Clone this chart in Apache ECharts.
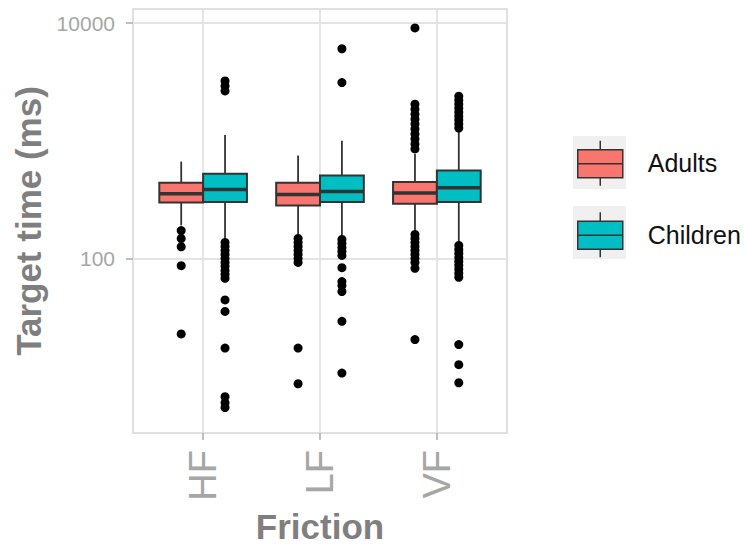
<!DOCTYPE html>
<html>
<head>
<meta charset="utf-8">
<script src="https://cdn.jsdelivr.net/npm/echarts@6/dist/echarts.min.js"></script>
<style>
html,body{margin:0;padding:0;background:#fff;}
#chart{width:744px;height:549px;}
</style>
</head>
<body>
<div id="chart"></div>
<script>
// ---------- data ----------
const categories = ['HF', 'LF', 'VF'];
const groups = ['Adults', 'Children'];
// [lower whisker, Q1, median, Q3, upper whisker] (ms)
const adultsStats = [
  [191, 298, 355, 439, 665],
  [156, 282, 350, 439, 748],
  [168, 292, 359, 445, 773]
];
const childrenStats = [
  [142, 302, 385, 524, 1119],
  [150, 302, 371, 506, 1000],
  [134, 302, 398, 558, 1186]
];
const adultsOutliers = [
  [172.5, 147.6, 125.6, 86.7, 22.8],
  [147.6, 136.5, 126.3, 116.9, 108.1, 100, 92.5, 17.3, 8.6],
  [9107, 2046, 1856, 1683, 1527, 1386, 1257, 1140, 1035, 939, 852,
   159.6, 147.6, 136.5, 126.3, 116.9, 108.1, 100, 92.5, 82.3, 20.4]
];
const childrenOutliers = [
  [3221, 2922, 2650, 136.5, 126.3, 116.9, 108.1, 100, 92.5, 85.6, 79.1, 73.2, 67.7,
   44.4, 35.4, 17.3, 6.67, 5.94, 5.39],
  [6053, 3121, 144.8, 133.9, 123.9, 114.6, 106, 83.4, 63.5, 58.8, 52.3, 29.2, 10.6],
  [2390, 2212, 2046, 1892, 1750, 1619, 1498, 1386, 1282,
   128.8, 119.2, 110, 101.9, 94.3, 87.3, 80.7, 74.7, 69.1, 18.5, 12.5, 8.77]
];
const yTicks = [100, 10000];
const yTickLabels = ['100', '10000'];
const xTicks = [1, 2, 3];

// ---------- layout helpers ----------
const DODGE = 0.1875;   // half of the 0.75 dodge width
const colors = {Adults: '#F8766D', Children: '#00BFC4'};
const LINE = '#333333';

function boxData(stats, sign) {
  return stats.map((s, i) => [i + 1 + sign * DODGE].concat(s));
}
function outlierData(outs, sign) {
  const res = [];
  outs.forEach((arr, i) => arr.forEach(v => res.push([i + 1 + sign * DODGE, v])));
  return res;
}
function renderBox(fill) {
  return function (params, api) {
    const x = api.value(0);
    const pL = api.coord([x - DODGE, api.value(2)]);
    const pR = api.coord([x + DODGE, api.value(4)]);
    const lo = api.coord([x, api.value(1)]);
    const hi = api.coord([x, api.value(5)]);
    const md = api.coord([x, api.value(3)]);
    const xl = pL[0], xr = pR[0], yq1 = pL[1], yq3 = pR[1];
    const ws = {stroke: LINE, lineWidth: 1.8};
    return {
      type: 'group',
      children: [
        {type: 'line', shape: {x1: lo[0], y1: hi[1], x2: lo[0], y2: yq3}, style: ws},
        {type: 'line', shape: {x1: lo[0], y1: yq1, x2: lo[0], y2: lo[1]}, style: ws},
        {type: 'rect', shape: {x: xl, y: yq3, width: xr - xl, height: yq1 - yq3},
         style: {fill: fill, stroke: LINE, lineWidth: 2}},
        {type: 'line', shape: {x1: xl, y1: md[1], x2: xr, y2: md[1]},
         style: {stroke: LINE, lineWidth: 3.5}}
      ]
    };
  };
}

const legendIcon = 'path://M2,11 L47,11 L47,39 L2,39 Z M2,25 L47,25 M24.5,2 L24.5,11 M24.5,39 L24.5,47';
const FONT = '"Liberation Sans", Arial, sans-serif';

const chart = echarts.init(document.getElementById('chart'), null, {renderer: 'svg'});
const gridLines = yTicks.map(v => ({yAxis: v})).concat(xTicks.map(v => ({xAxis: v})));

chart.setOption({
  animation: false,
  backgroundColor: '#ffffff',
  textStyle: {fontFamily: FONT},
  grid: {
    left: 133, top: 9, width: 374, height: 426.5,
    show: true, borderColor: '#d6d6d6', borderWidth: 1.5, containLabel: false
  },
  xAxis: {
    type: 'value', min: 0.4, max: 3.6,
    name: 'Friction', nameLocation: 'middle', nameGap: 76,
    nameTextStyle: {fontSize: 35, fontWeight: 'bold', color: '#7f7f7f', fontFamily: FONT},
    axisLine: {show: false},
    axisTick: {show: true, length: 7, customValues: xTicks, lineStyle: {color: '#aaaaaa', width: 1.5}},
    axisLabel: {
      customValues: xTicks, rotate: 90, margin: 17, fontSize: 38, color: '#a6a6a6',
      fontFamily: FONT,
      formatter: v => categories[Math.round(v) - 1] || ''
    },
    splitLine: {show: false}
  },
  yAxis: {
    type: 'log', logBase: 10, min: 3.28, max: 13180,
    name: 'Target time (ms)', nameLocation: 'middle', nameGap: 79,
    nameTextStyle: {fontSize: 35, fontWeight: 'bold', color: '#7f7f7f', fontFamily: FONT},
    axisLine: {show: false},
    axisTick: {show: true, length: 7, customValues: yTicks, lineStyle: {color: '#aaaaaa', width: 1.5}},
    axisLabel: {
      customValues: yTicks, margin: 18, fontSize: 21, color: '#a6a6a6', fontFamily: FONT,
      formatter: v => { const i = yTicks.indexOf(Math.round(v)); return i >= 0 ? yTickLabels[i] : ''; }
    },
    splitLine: {show: false}
  },
  legend: {
    orient: 'vertical', left: 577, top: 140, padding: 0,
    itemWidth: 45, itemHeight: 45, itemGap: 25,
    selectedMode: false,
    itemStyle: {borderColor: LINE, borderWidth: 1.5},
    textStyle: {fontSize: 25, color: '#111111', fontFamily: FONT, padding: [0, 0, 0, 20]},
    data: groups.map(g => ({name: g, icon: legendIcon}))
  },
  graphic: [
    {type: 'rect', left: 573, top: 136, shape: {width: 53, height: 53}, style: {fill: '#f0f0f0'}, z: -10},
    {type: 'rect', left: 573, top: 206, shape: {width: 53, height: 53}, style: {fill: '#f0f0f0'}, z: -10}
  ],
  series: [
    {
      name: 'grid', type: 'scatter', data: [], silent: true, z: 1,
      markLine: {
        silent: true, symbol: 'none', z: 1, label: {show: false}, animation: false,
        lineStyle: {color: '#e3e3e3', width: 1.8, type: 'solid'},
        emphasis: {disabled: true},
        data: gridLines
      }
    },
    {
      name: 'Adults', type: 'custom', silent: true, z: 3,
      itemStyle: {color: colors.Adults},
      encode: {x: 0, y: [1, 2, 3, 4, 5]},
      renderItem: renderBox(colors.Adults),
      data: boxData(adultsStats, -1)
    },
    {
      name: 'Children', type: 'custom', silent: true, z: 3,
      itemStyle: {color: colors.Children},
      encode: {x: 0, y: [1, 2, 3, 4, 5]},
      renderItem: renderBox(colors.Children),
      data: boxData(childrenStats, 1)
    },
    {
      name: 'Adults outliers', type: 'scatter', silent: true, z: 4,
      symbol: 'circle', symbolSize: 9, itemStyle: {color: '#000000', opacity: 1},
      data: outlierData(adultsOutliers, -1)
    },
    {
      name: 'Children outliers', type: 'scatter', silent: true, z: 4,
      symbol: 'circle', symbolSize: 9, itemStyle: {color: '#000000', opacity: 1},
      data: outlierData(childrenOutliers, 1)
    }
  ]
});
</script>
</body>
</html>
